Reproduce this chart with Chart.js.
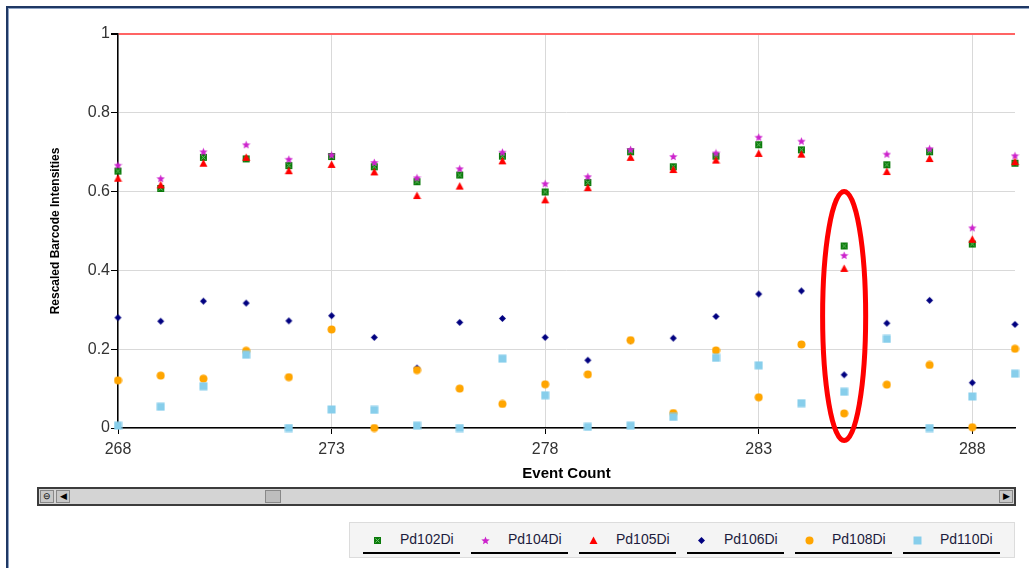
<!DOCTYPE html>
<html>
<head>
<meta charset="utf-8">
<script src="https://cdn.jsdelivr.net/npm/chart.js@4"></script>
<style>
  body { margin: 0; background: #fff; font-family: "Liberation Sans", Arial, sans-serif; }
  #wrap { position: relative; width: 1029px; height: 568px; overflow: hidden; }
  #frame { position: absolute; left: 6px; top: 6px; width: 1040px; height: 600px;
           border-top: 2px solid #1f3864; border-left: 2px solid #1f3864; box-shadow: inset 1px 1px 0 #8ea3c4; }
  #chartBox { position: absolute; left: 0; top: 0; width: 1029px; height: 482px; }
  #scroll { position: absolute; left: 37px; top: 487px; width: 975px; height: 15px;
            border: 2px solid #3c3c3c; background: #d4d4d4; }
  .btn { position: absolute; top: 1px; width: 14px; height: 13px; background: #c8c8c8;
         border: 1px solid #888; box-sizing: border-box; font-size: 9px; line-height: 11px; text-align: center; color: #000; }
  #legend { position: absolute; left: 349px; top: 522px; width: 664px; height: 34px;
            background: #f4f4f4; border: 1px solid #dcdcdc; }
  .item { position: absolute; top: 0; width: 97px; height: 29px; border-bottom: 2px solid #000; }
  .item canvas { position: absolute; left: 10px; top: 13px; }
  .item span { position: absolute; left: 37px; top: 8px; font-size: 14px; color: #1c1c3c; }
</style>
</head>
<body>
<div id="wrap">
  <div id="frame"></div>
  <div id="chartBox"><canvas id="barcodeChart" width="1029" height="482"></canvas></div>
  <div id="scroll">
    <div class="btn" style="left:1px">&#8854;</div>
    <div class="btn" style="left:17px">&#9664;</div>
    <div class="btn" style="left:226px; width:16px; background:#bdbdbd"></div>
    <div class="btn" style="right:1px">&#9654;</div>
  </div>
  <div id="legend"></div>
</div>
<script>
// event numbers shown in this window of the scatter
const events = [268, 269, 270, 271, 272, 273, 274, 275, 276, 277, 278, 279, 280, 281, 282, 283, 284, 285, 286, 287, 288, 289];

const pd102 = [0.652, 0.608, 0.687, 0.683, 0.666, 0.689, 0.663, 0.625, 0.642, 0.690, 0.599, 0.623, 0.701, 0.663, 0.690, 0.719, 0.706, 0.462, 0.668, 0.701, 0.467, 0.672];
const pd104 = [0.667, 0.633, 0.701, 0.719, 0.682, 0.693, 0.674, 0.635, 0.658, 0.700, 0.620, 0.638, 0.707, 0.689, 0.698, 0.738, 0.728, 0.438, 0.695, 0.709, 0.508, 0.691];
const pd105 = [0.634, 0.617, 0.672, 0.687, 0.653, 0.669, 0.650, 0.590, 0.614, 0.678, 0.579, 0.610, 0.687, 0.656, 0.680, 0.697, 0.695, 0.405, 0.651, 0.684, 0.479, 0.676];
const pd106 = [0.280, 0.271, 0.322, 0.317, 0.272, 0.285, 0.230, 0.152, 0.268, 0.278, 0.230, 0.172, 0.222, 0.228, 0.283, 0.340, 0.348, 0.135, 0.266, 0.324, 0.115, 0.263];
const pd108 = [0.121, 0.133, 0.125, 0.196, 0.129, 0.250, 0.000, 0.147, 0.100, 0.061, 0.111, 0.136, 0.223, 0.038, 0.197, 0.078, 0.212, 0.037, 0.110, 0.160, 0.002, 0.201];
const pd110 = [0.006, 0.054, 0.106, 0.186, 0.000, 0.047, 0.046, 0.006, 0.000, 0.176, 0.083, 0.003, 0.006, 0.028, 0.178, 0.159, 0.063, 0.092, 0.226, 0.000, 0.080, 0.138];

const seriesNames = ['Pd102Di', 'Pd104Di', 'Pd105Di', 'Pd106Di', 'Pd108Di', 'Pd110Di'];
const seriesValues = [pd102, pd104, pd105, pd106, pd108, pd110];

const xTicks = [268, 273, 278, 283, 288];
const yTicks = [0, 0.2, 0.4, 0.6, 0.8, 1];

// the circled event
const flagged = { event: 285, low: -0.032, high: 0.600, halfWidth: 0.504 };

// little marker images, one per series
function makeMarker(kind) {
    const c = document.createElement('canvas');
    c.width = 9; c.height = 9;
    const g = c.getContext('2d');
    if (kind === 0) {
        g.fillStyle = '#0a7a0a';
        g.fillRect(1, 1, 7, 7);
        g.strokeStyle = '#6fc36f';
        g.lineWidth = 1;
        g.beginPath(); g.moveTo(2.5, 2.5); g.lineTo(6.5, 6.5); g.moveTo(6.5, 2.5); g.lineTo(2.5, 6.5); g.stroke();
    } else if (kind === 1) {
        g.fillStyle = '#cc22cc';
        g.beginPath();
        for (let k = 0; k < 10; k++) {
            const r = k % 2 ? 1.9 : 4.4;
            const a = -Math.PI / 2 + k * Math.PI / 5;
            g.lineTo(4.5 + r * Math.cos(a), 4.8 + r * Math.sin(a));
        }
        g.closePath(); g.fill();
    } else if (kind === 2) {
        g.fillStyle = '#ff0000';
        g.beginPath(); g.moveTo(4.5, 0.5); g.lineTo(8.5, 8); g.lineTo(0.5, 8); g.closePath(); g.fill();
    } else if (kind === 3) {
        g.fillStyle = '#000080';
        g.beginPath(); g.moveTo(4.5, 1); g.lineTo(8, 4.5); g.lineTo(4.5, 8); g.lineTo(1, 4.5); g.closePath(); g.fill();
    } else if (kind === 4) {
        g.fillStyle = '#ffa500';
        g.beginPath(); g.arc(4.5, 4.5, 4, 0, Math.PI * 2); g.fill();
    } else {
        g.fillStyle = '#87ceeb';
        g.fillRect(0.5, 0.5, 8, 8);
    }
    return c;
}

const datasets = seriesNames.map((name, i) => ({
    label: name,
    data: events.map((e, j) => ({ x: e, y: seriesValues[i][j] })),
    pointStyle: makeMarker(i),
    pointRadius: 4,
    clip: false,
    order: seriesNames.length - i
}));

const extras = {
    id: 'extras',
    afterDraw(chart) {
        const ctx = chart.ctx;
        const a = chart.chartArea;
        const xs = chart.scales.x, ys = chart.scales.y;
        ctx.save();
        ctx.fillStyle = '#000';
        ctx.font = 'bold 15px "Liberation Sans", Arial, sans-serif';
        ctx.textAlign = 'center';
        ctx.textBaseline = 'middle';
        ctx.fillText('Event Count', (a.left + a.right) / 2, 474);
        ctx.translate(56, (a.top + a.bottom) / 2);
        ctx.rotate(-Math.PI / 2);
        ctx.font = 'bold 12px "Liberation Sans", Arial, sans-serif';
        ctx.fillText('Rescaled Barcode Intensities', 0, 0);
        ctx.restore();

        const cx = xs.getPixelForValue(flagged.event);
        const top = ys.getPixelForValue(flagged.high);
        const bottom = ys.getPixelForValue(flagged.low);
        const rx = xs.getPixelForValue(flagged.event + flagged.halfWidth) - cx;
        ctx.save();
        ctx.strokeStyle = '#ff0000';
        ctx.lineWidth = 5;
        ctx.beginPath();
        ctx.ellipse(cx, (top + bottom) / 2, rx, (bottom - top) / 2, 0, 0, Math.PI * 2);
        ctx.stroke();
        ctx.restore();
    }
};

const tickFont = { family: '"Liberation Sans", Arial, sans-serif', size: 16 };

new Chart(document.getElementById('barcodeChart'), {
    type: 'scatter',
    data: { datasets: datasets },
    options: {
        responsive: false,
        animation: false,
        layout: { padding: { top: 34, right: 14, left: 0, bottom: 0 } },
        plugins: { legend: { display: false }, tooltip: { enabled: false } },
        scales: {
            x: {
                type: 'linear',
                min: 268,
                max: 289,
                afterBuildTicks: axis => { axis.ticks = xTicks.map(v => ({ value: v })); },
                afterFit: axis => { axis.height = 54; },
                grid: { color: '#d9d9d9', tickColor: '#000', tickLength: 6 },
                border: { color: '#000', width: 1.5 },
                ticks: { font: tickFont, color: '#333', padding: 6, maxRotation: 0, autoSkip: false }
            },
            y: {
                min: 0,
                max: 1,
                afterBuildTicks: axis => { axis.ticks = yTicks.map(v => ({ value: v })); },
                afterFit: axis => { axis.width = 118; },
                grid: {
                    color: c => c.tick && c.tick.value === 1 ? '#ff6464' : '#d9d9d9',
                    lineWidth: c => c.tick && c.tick.value === 1 ? 2 : 1,
                    tickColor: '#000',
                    tickLength: 7
                },
                border: { color: '#000', width: 1.5 },
                ticks: { font: tickFont, color: '#333', padding: 1, callback: v => String(Math.round(v * 10) / 10) }
            }
        }
    },
    plugins: [extras]
});

// legend below the scroll bar
const legend = document.getElementById('legend');
seriesNames.forEach((name, i) => {
    const item = document.createElement('div');
    item.className = 'item';
    item.style.left = (13 + i * 108) + 'px';
    item.appendChild(makeMarker(i));
    const label = document.createElement('span');
    label.textContent = name;
    item.appendChild(label);
    legend.appendChild(item);
});
</script>
</body>
</html>
